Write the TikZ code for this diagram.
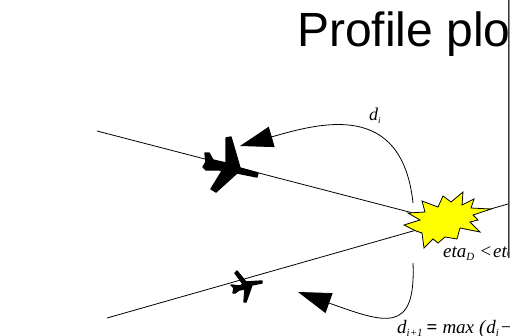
\documentclass[tikz,border=0pt]{standalone}
\usepackage{fontspec}
\setmainfont{Liberation Serif}
\newfontfamily\titlefont{Liberation Sans}
\usetikzlibrary{arrows.meta}
\definecolor{blastyellow}{HTML}{FFFF00}
\definecolor{framedark}{HTML}{3A3A3A}
\definecolor{frameblue}{HTML}{5B9BD5}
\tikzset{
  path/.style={line width=0.8pt, draw=black},
  swing/.style={path, -{Triangle[length=33pt,width=21pt]}},
  plane/.style={fill=black, draw=black, line width=1.4pt, line join=round},
  blast/.style={fill=blastyellow, draw=black, line width=0.8pt, line join=miter},
  title/.style={anchor=base west, inner sep=0pt, font=\titlefont\fontsize{48}{48}\selectfont},
  formula/.style={anchor=base west, inner sep=0pt, font=\itshape\fontsize{18}{18}\selectfont},
  small/.style={anchor=base west, inner sep=0pt, font=\itshape\fontsize{19}{19}\selectfont}
}
\newcommand{\lowered}[2][11]{\raisebox{-3.5pt}{\fontsize{#1}{#1}\selectfont #2}}

\begin{document}
\begin{tikzpicture}[x=1pt,y=-1pt]
\useasboundingbox (0,0) rectangle (510,335);

\coordinate (upperstart) at (97,131);
\coordinate (upperend) at (413,213);
\coordinate (lowerstart) at (107,318);
\coordinate (lowerend) at (508,204);
\coordinate (swingtop) at (413,203);
\coordinate (swingtoptip) at (240,146);
\coordinate (swingbottom) at (413,263);
\coordinate (swingbottomtip) at (298,292);

\begin{scope}
  \clip (0,0) rectangle (507.5,335);
  \node[title] (heading) at (297,46) {Profile plo};
  \node[small] (etalabel) at (443,257) {eta\lowered{D}\kern5pt<\kern1pt eta};
\end{scope}
\node[formula] (dilabel) at (369,120) {d\lowered[9]{i}};
\begin{scope}
  \clip (0,0) rectangle (510,335);
  \node[small] (dnextlabel) at (397,333) {d\lowered{i+1}\kern4pt\textup{\textbf{=}}\kern5pt max\kern5pt(\kern1pt d\lowered{i}\kern2pt\textup{\textminus}};
\end{scope}

\draw[path] (upperstart) -- (upperend);
\draw[path] (lowerstart) -- (lowerend);
\draw[swing] (swingtop) .. controls (402,100) and (320,123) .. (swingtoptip);
\draw[swing] (swingbottom) .. controls (416,335) and (385,323) .. (swingbottomtip);

\fill[plane] (258,173) -- (240,168) -- (231,137) -- (226,138) -- (226,163) -- (213,160)
  -- (209,153) -- (205,153) -- (206,162) -- (203,167) -- (206,170) -- (220,170) -- (222,171)
  -- (211,189) -- (216,192) -- (237,173) -- (257,177) -- cycle;
\fill[plane] (262,281) -- (246,282) -- (237,271) -- (235,273) -- (243,284) -- (240,286)
  -- (231,285) -- (234,288) -- (233,293) -- (235,293) -- (239,290) -- (245,289) -- (244,302)
  -- (246,302) -- (252,285) -- (262,283) -- cycle;

\draw[blast] (408,213) -- (425,212) -- (422,201) -- (438,207) -- (443,196) -- (451,202)
  -- (463,192) -- (462,205) -- (474,199) -- (471,208) -- (491,209) -- (473,215) -- (478,220)
  -- (470,222) -- (480,232) -- (460,228) -- (457,239) -- (445,237) -- (438,243) -- (433,239)
  -- (424,248) -- (422,233) -- (416,231) -- (404,225) -- (420,220) -- cycle;

\fill[framedark] (507.5,0) rectangle (509,258);
\fill[frameblue] (509,0) rectangle (510,258);

\end{tikzpicture}
\end{document}
